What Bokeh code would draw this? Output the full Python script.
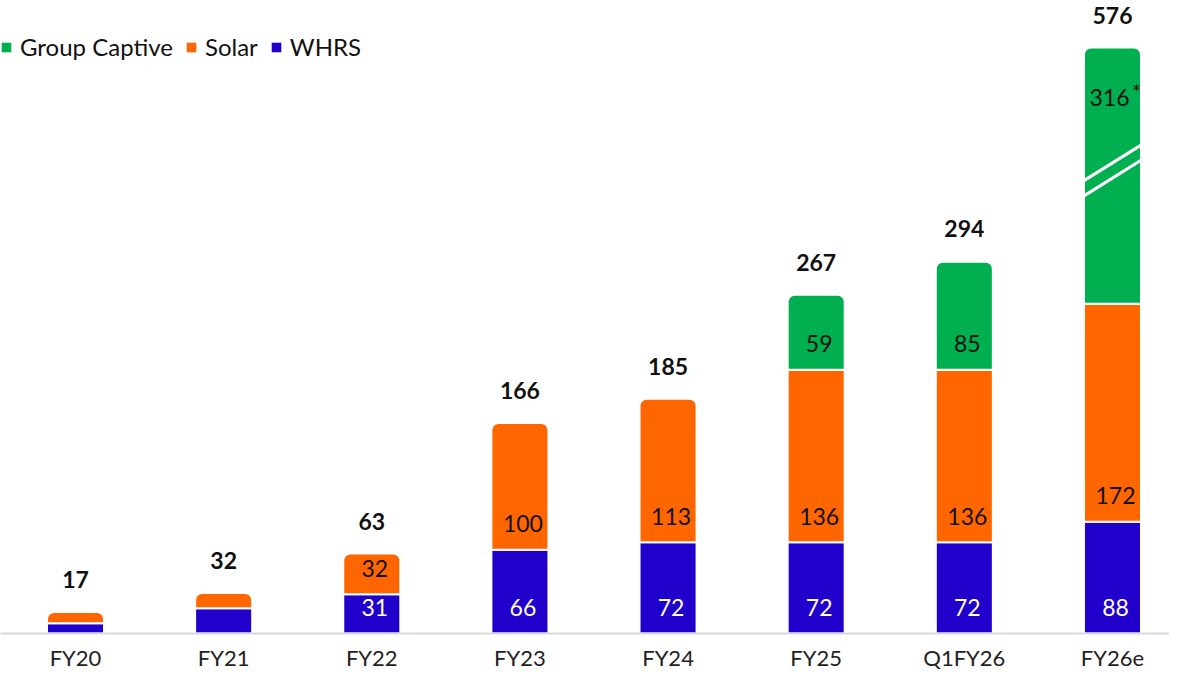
from bokeh.plotting import figure
from bokeh.models import (ColumnDataSource, Range1d, FixedTicker, Legend, LegendItem,
                          CDSView, BooleanFilter)
from bokeh.core.properties import value
from bokeh.embed import file_html
from bokeh.resources import INLINE

# ---------------- data ----------------
categories = ["FY20", "FY21", "FY22", "FY23", "FY24", "FY25", "Q1FY26", "FY26e"]
whrs = [8, 20, 31, 66, 72, 72, 72, 88]
solar = [9, 12, 32, 100, 113, 136, 136, 172]
captive = [0, 0, 0, 0, 0, 59, 85, 316]
totals = [17, 32, 63, 166, 185, 267, 294, 576]
footnote_marks = ["", "", "", "", "", "", "", "*"]

series_names = ["WHRS", "Solar", "Group Captive"]
series_values = [whrs, solar, captive]
series_colors = ["#2200CC", "#FF6600", "#00B050"]
label_colors = ["#FFFFFF", "#111111", "#111111"]

# ---------------- layout / style ----------------
FONT = "Lato"
BREAK_AT = 365      # value where the axis break is drawn
BREAK_GAP = 114     # amount of value range removed above the break
BAR_W = 0.385
MIN_LABEL = 25
W, H = 1169, 673
Y_END = 499


def disp(v):
    return v if v <= BREAK_AT else v - BREAK_GAP


# build segments
seg = dict(x=[], bottom=[], top=[], color=[], is_top=[])
lab = dict(x=[], y=[], text=[], color=[], xo=[], yo=[])
star = dict(x=[], y=[], text=[])
breaks = dict(x0=[], x1=[], y0=[], y1=[])
for i in range(len(categories)):
    base = 0
    nonzero = [s for s in range(3) if series_values[s][i] > 0]
    for s in nonzero:
        v = series_values[s][i]
        b, t = base, base + v
        seg["x"].append(i)
        seg["bottom"].append(disp(b))
        seg["top"].append(disp(t))
        seg["color"].append(series_colors[s])
        seg["is_top"].append(s == nonzero[-1])
        if v >= MIN_LABEL:
            lab["x"].append(i)
            lab["text"].append(str(v))
            lab["color"].append(label_colors[s])
            if t > BREAK_AT >= b:
                lab["y"].append(disp(t))
                lab["xo"].append(-3)
                lab["yo"].append(50)
                if footnote_marks[i]:
                    star["x"].append(i)
                    star["y"].append(disp(t))
                    star["text"].append(footnote_marks[i])
                for off in (-6, 6):
                    breaks["x0"].append(i - BAR_W / 2)
                    breaks["x1"].append(i + BAR_W / 2)
                    breaks["y0"].append(BREAK_AT + off - 14)
                    breaks["y1"].append(BREAK_AT + off + 14)
            else:
                lab["y"].append(disp(b))
                lab["xo"].append(3)
                lab["yo"].append(-26)
        base = t

src = ColumnDataSource(seg)
lsrc = ColumnDataSource(lab)

p = figure(width=W, height=H, output_backend="svg", toolbar_location=None,
           x_range=Range1d(-0.5063, 7.385), y_range=Range1d(0, Y_END),
           y_axis_location=None, min_border=0, min_border_left=0,
           min_border_right=0, min_border_top=0, min_border_bottom=0)
p.outline_line_color = None
p.xgrid.visible = False
p.ygrid.visible = False
p.background_fill_color = "white"

top_view = CDSView(filter=BooleanFilter(seg["is_top"]))
rest_view = CDSView(filter=BooleanFilter([not t for t in seg["is_top"]]))
p.vbar(x="x", bottom="bottom", top="top", width=BAR_W, source=src, view=rest_view,
       fill_color="color", line_color="white", line_width=2)
p.vbar(x="x", bottom="bottom", top="top", width=BAR_W, source=src, view=top_view,
       fill_color="color", line_color="white", line_width=2,
       border_radius=(7, 7, 0, 0))

p.segment(x0="x0", y0="y0", x1="x1", y1="y1", source=ColumnDataSource(breaks),
          line_color="white", line_width=3)

p.text(x="x", y="y", text="text", source=lsrc, text_color="color",
       x_offset="xo", y_offset="yo", text_align="center", text_baseline="middle",
       text_font=value(FONT), text_font_size="23px")
p.text(x="x", y="y", text="text", source=ColumnDataSource(star), text_color="#111111",
       x_offset=24, y_offset=44, text_align="center", text_baseline="middle",
       text_font=value("DejaVu Sans"), text_font_size="15px")

p.text(x=list(range(len(categories))), y=[disp(t) for t in totals],
       text=[str(t) for t in totals], y_offset=-32, text_align="center",
       text_baseline="middle", text_font=value(FONT), text_font_size="23px",
       text_font_style="bold", text_color="#111111")

# axis
p.xaxis.ticker = FixedTicker(ticks=list(range(len(categories))))
p.xaxis.major_label_overrides = {i: c for i, c in enumerate(categories)}
p.xaxis.axis_label = None
p.xaxis.axis_line_color = "#D9D9D9"
p.xaxis.axis_line_width = 2
p.xaxis.major_tick_line_color = None
p.xaxis.minor_tick_line_color = None
p.xaxis.major_tick_out = 0
p.xaxis.major_tick_in = 0
p.xaxis.major_label_standoff = 10
p.xaxis.major_label_text_font = FONT
p.xaxis.major_label_text_font_size = "22px"
p.xaxis.major_label_text_color = "#222222"

# legend (swatches drawn from a single off-screen row)
items = []
for name in ["Group Captive", "Solar", "WHRS"]:
    c = series_colors[series_names.index(name)]
    r = p.quad(left=[-5], right=[-4.9], top=[-5], bottom=[-6], fill_color=c, line_color=None)
    items.append(LegendItem(label=name, renderers=[r]))
legend = Legend(items=items, orientation="horizontal", location=(0, 572),
                glyph_width=12, glyph_height=12, label_standoff=8, spacing=12,
                padding=0, margin=0, border_line_color=None,
                background_fill_alpha=0, label_text_font=FONT,
                label_text_font_size="24px", label_text_color="#111111")
p.add_layout(legend)

open("out.html", "w").write(file_html(p, INLINE))
